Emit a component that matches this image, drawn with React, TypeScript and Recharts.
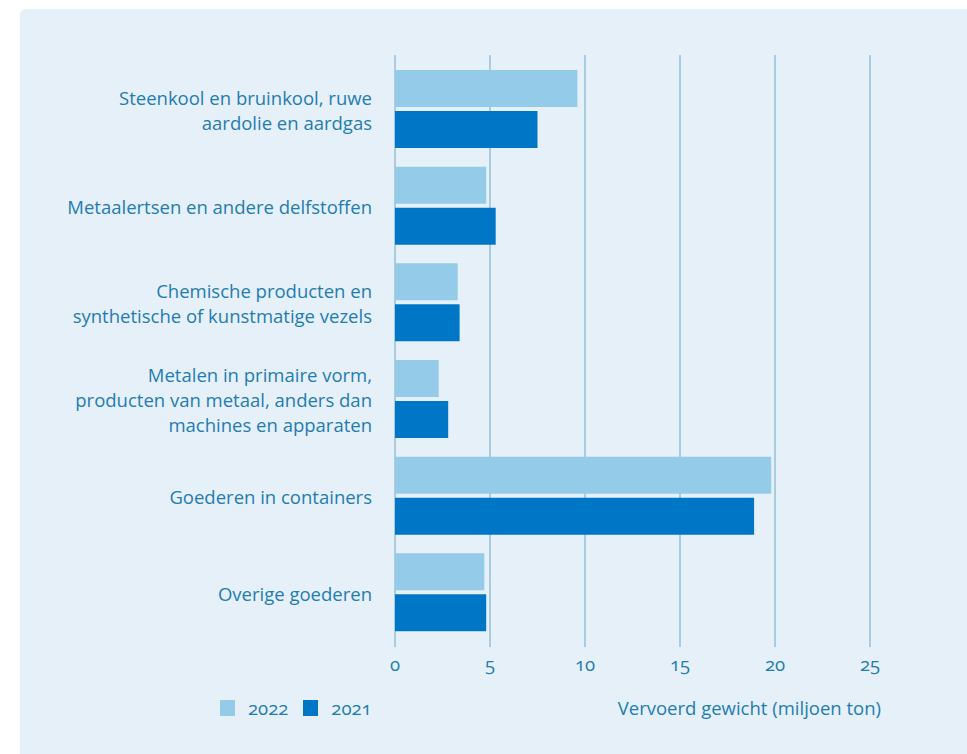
import React from "react"
import {
  Bar,
  BarChart,
  CartesianGrid,
  Label,
  Legend,
  XAxis,
  YAxis,
} from "recharts"

// goederen (miljoen ton)
const categories = [
  "Steenkool en bruinkool, ruwe aardolie en aardgas",
  "Metaalertsen en andere delfstoffen",
  "Chemische producten en synthetische of kunstmatige vezels",
  "Metalen in primaire vorm, producten van metaal, anders dan machines en apparaten",
  "Goederen in containers",
  "Overige goederen",
]

const categoryLines = [
  ["Steenkool en bruinkool, ruwe", "aardolie en aardgas"],
  ["Metaalertsen en andere delfstoffen"],
  ["Chemische producten en", "synthetische of kunstmatige vezels"],
  ["Metalen in primaire vorm,", "producten van metaal, anders dan", "machines en apparaten"],
  ["Goederen in containers"],
  ["Overige goederen"],
]

const values2022 = [9.6, 4.8, 3.3, 2.3, 19.8, 4.7]
const values2021 = [7.5, 5.3, 3.4, 2.8, 18.9, 4.8]

const xTicks = [0, 5, 10, 15, 20, 25]

const data = categories.map((name, i) => ({
  name,
  lines: categoryLines[i],
  y2022: values2022[i],
  y2021: values2021[i],
}))

const textColor = "#1f7db1"
const light = "#93cbe8"
const dark = "#0077c6"
const font = "'Open Sans', sans-serif"
const fs = 18.5

function CategoryTick(props: any) {
  const { x, y, index } = props
  const lines = categoryLines[index] || []
  const n = lines.length
  return (
    <g>
      {lines.map((line, i) => (
        <text
          key={i}
          x={x}
          y={y + (i - (n - 1) / 2) * 25 + 8}
          textAnchor="end"
          fill={textColor}
          fontSize={fs}
          fontFamily={font}
        >
          {line}
        </text>
      ))}
    </g>
  )
}

function ValueTick(props: any) {
  const { x, payload } = props
  return (
    <text
      x={x}
      y={671}
      textAnchor="middle"
      fill={textColor}
      fontSize={fs}
      fontFamily={font}
      style={{ fontVariantNumeric: "oldstyle-nums" }}
    >
      {payload.value}
    </text>
  )
}

function LegendContent() {
  const items = [
    { label: "2022", color: light },
    { label: "2021", color: dark },
  ]
  return (
    <div style={{ display: "flex", alignItems: "center", fontFamily: font }}>
      {items.map((it) => (
        <div key={it.label} style={{ display: "flex", alignItems: "center", marginRight: 15 }}>
          <span style={{ width: 15, height: 16, background: it.color, display: "inline-block", marginRight: 13 }} />
          <span style={{ color: textColor, fontSize: fs, lineHeight: "20px", fontVariantNumeric: "oldstyle-nums" }}>{it.label}</span>
        </div>
      ))}
    </div>
  )
}

export default function App() {
  return (
    <div style={{ position: "absolute", left: 0, top: 0, width: 967, height: 754, background: "#fff", overflow: "hidden" }}>
      <div
        style={{
          position: "absolute",
          left: 20,
          top: 9,
          width: 960,
          height: 760,
          background: "#e6f0f8",
          borderRadius: 6,
        }}
      />
      <div style={{ position: "absolute", left: 0, top: 0 }}>
        <BarChart
          width={967}
          height={754}
          data={data}
          layout="vertical"
          margin={{ top: 55, right: 97, bottom: 57, left: 0 }}
          barSize={37}
          barGap={4}
        >
          <CartesianGrid horizontal={false} stroke="#95c0dc" strokeWidth={1.5} />
          <XAxis
            type="number"
            domain={[0, 25]}
            ticks={xTicks}
            axisLine={false}
            tickLine={false}
            height={30}
            tick={<ValueTick />}
          >
            <Label
              content={(p: any) => {
                const vb = p.viewBox
                return (
                  <text
                    x={vb.x + vb.width + 11}
                    y={715}
                    textAnchor="end"
                    fill={textColor}
                    fontSize={fs}
                    fontFamily={font}
                  >
                    Vervoerd gewicht (miljoen ton)
                  </text>
                )
              }}
            />
          </XAxis>
          <YAxis
            type="category"
            dataKey="name"
            width={395}
            axisLine={false}
            tickLine={false}
            tickSize={0}
            tickMargin={23}
            padding={{ top: 6, bottom: 6 }}
            interval={0}
            tick={<CategoryTick />}
          />
          <Legend
            content={<LegendContent />}
            wrapperStyle={{ position: "absolute", left: 220, top: 698, width: 200, height: 20 }}
          />
          <Bar dataKey="y2022" name="2022" fill={light} isAnimationActive={false} />
          <Bar dataKey="y2021" name="2021" fill={dark} isAnimationActive={false} />
        </BarChart>
      </div>
    </div>
  )
}
